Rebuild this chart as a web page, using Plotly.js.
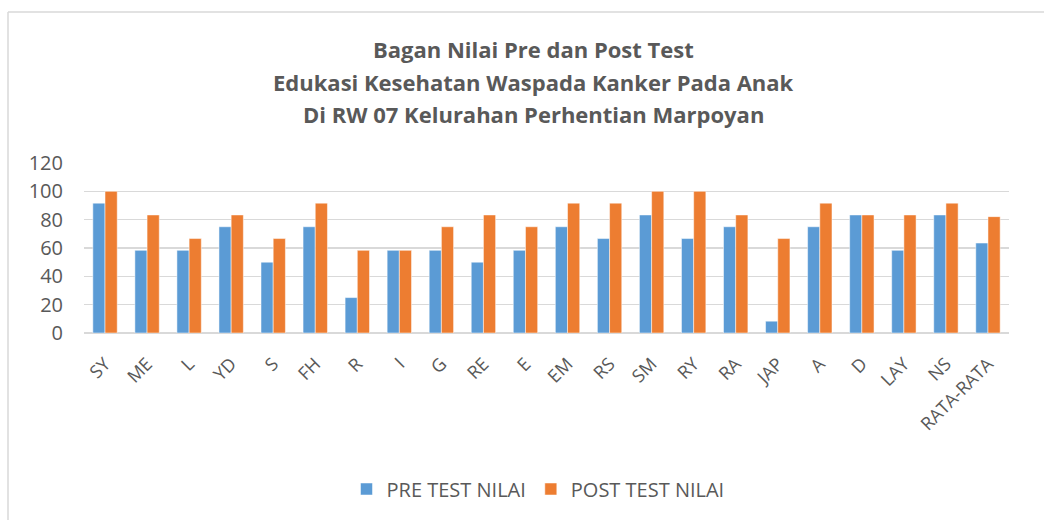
<!DOCTYPE html>
<html>
<head>
<meta charset="utf-8">
<script src="https://cdn.plot.ly/plotly-3.0.1.min.js"></script>
<style>
html,body{margin:0;padding:0;background:#fff;}
#chart{width:1044px;height:520px;}
</style>
</head>
<body>
<div id="chart"></div>
<script>
const categories = ["SY","ME","L","YD","S","FH","R","I","G","RE","E","EM","RS","SM","RY","RA","JAP","A","D","LAY","NS","RATA-RATA"];
const preTest = [91.67,58.33,58.33,75,50,75,25,58.33,58.33,50,58.33,75,66.67,83.33,66.67,75,8.33,75,83.33,58.33,83.33,63.49];
const postTest = [100,83.33,66.67,83.33,66.67,91.67,58.33,58.33,75,83.33,75,91.67,91.67,100,100,83.33,66.67,91.67,83.33,83.33,91.67,82.14];
const seriesNames = ["PRE TEST NILAI","POST TEST NILAI"];
const titleLines = ["Bagan Nilai Pre dan Post Test","Edukasi Kesehatan Waspada Kanker Pada Anak","Di RW 07 Kelurahan Perhentian Marpoyan"];
const yTicks = [0,20,40,60,80,100,120];

const FONT = "Open Sans, Noto Sans, sans-serif";
const GREY = "#595959";

const traces = [
  {type:"bar", name:seriesNames[0], x:categories, y:preTest,
   marker:{color:"#5b9bd5", line:{color:"#ffffff", width:0.5}}},
  {type:"bar", name:seriesNames[1], x:categories, y:postTest,
   marker:{color:"#ed7d31", line:{color:"#ffffff", width:0.5}}}
];

const L=84, T=163, W=925, H=170;
const py = p => (T+H-p)/H;
const px = p => (p-L)/W;

const titleY = [49, 82, 114];
const annotations = titleLines.map((t,i)=>({
  text:t, xref:"paper", yref:"paper", x:px(533), y:py(titleY[i]),
  xanchor:"center", yanchor:"middle", showarrow:false,
  font:{family:FONT, size:22, color:GREY, weight:"bold"}
}));

const layout = {
  width:1044, height:520,
  margin:{l:L, r:1044-L-W, t:T, b:520-T-H, pad:0},
  paper_bgcolor:"#ffffff", plot_bgcolor:"#ffffff",
  barmode:"group", bargap:0.42, bargroupgap:0,
  showlegend:true,
  legend:{orientation:"h", x:px(538), xanchor:"center", y:py(489), yanchor:"middle",
          font:{family:FONT, size:20, color:GREY}, itemwidth:30, traceorder:"normal"},
  xaxis:{tickangle:-45, tickfont:{family:FONT, size:18, color:GREY},
         showgrid:false, zeroline:false, showline:false, ticks:"", automargin:false,
         ticklabelstandoff:16},
  yaxis:{range:[0,120], tickvals:yTicks, ticktext:yTicks.map(String),
         tickfont:{family:FONT, size:20, color:GREY},
         showgrid:true, gridcolor:"#d9d9d9", gridwidth:1.5,
         zeroline:true, zerolinecolor:"#d9d9d9", zerolinewidth:1.5,
         showline:false, ticks:"", ticklabelstandoff:20, automargin:false},
  annotations:annotations,
  shapes:[
    {type:"line", xref:"paper", yref:"paper", x0:px(8), x1:px(1044), y0:py(12), y1:py(12),
     line:{color:"#d9d9d9", width:1.5}},
    {type:"line", xref:"paper", yref:"paper", x0:px(8), x1:px(8), y0:py(12), y1:py(520),
     line:{color:"#d9d9d9", width:1.5}}
  ]
};

Plotly.newPlot("chart", traces, layout, {displayModeBar:false, staticPlot:true});
</script>
</body>
</html>
